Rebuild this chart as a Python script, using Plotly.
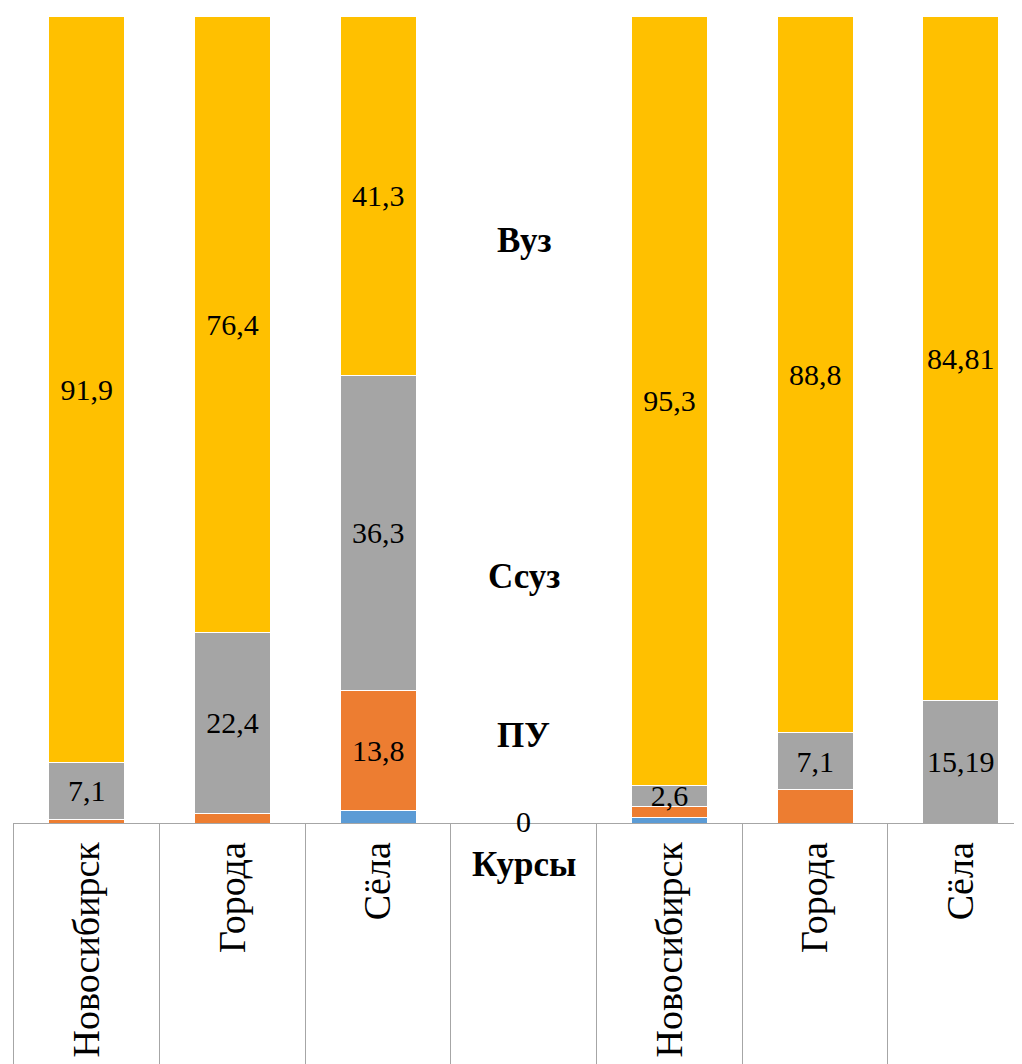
import plotly.graph_objects as go

categories = ["Новосибирск", "Города", "Сёла", "", "Новосибирск", "Города", "Сёла"]
series_names = ["Курсы", "ПУ", "Ссуз", "Вуз"]
kursy = [0, 0, 1.4, 0, 0.7, 0, 0]
pu = [0.4, 1.2, 13.8, 0, 1.4, 4.1, 0]
ssuz = [7.1, 22.4, 36.3, 0, 2.6, 7.1, 15.19]
vuz = [91.9, 76.4, 41.3, 0, 95.3, 88.8, 84.81]
# which segments carry a value label
show_pu = [False, False, True, False, False, False, False]
show_ssuz = [True, True, True, False, True, True, True]
show_vuz = [True, True, True, False, True, True, True]

colors = ["#5B9BD5", "#ED7D31", "#A5A5A5", "#FFC000"]
FONT = "Liberation Serif"

# unique keys so the repeated city names stay separate categories
keys = [f"c{i}" for i in range(len(categories))]


def fmt(v):
    return f"{v:g}".replace(".", ",")


def labels(vals, show):
    return [fmt(v) if s else "" for v, s in zip(vals, show)]


fig = go.Figure()
series = [
    (kursy, [False] * 7),
    (pu, show_pu),
    (ssuz, show_ssuz),
    (vuz, show_vuz),
]
for name, (vals, show), col in zip(series_names, series, colors):
    fig.add_trace(go.Bar(
        x=keys, y=vals, name=name,
        marker=dict(color=col, line=dict(color="white", width=1)),
        text=labels(vals, show), textposition="inside",
        insidetextanchor="middle",
        textfont=dict(family=FONT, size=30, color="black"),
        xaxis="x", yaxis="y",
    ))

# invisible helper trace so the lower strip knows the categories
fig.add_trace(go.Scatter(
    x=keys, y=[0] * len(keys), mode="markers",
    marker=dict(opacity=0), hoverinfo="skip", showlegend=False,
    xaxis="x2", yaxis="y2",
))

# series names written in the empty middle column
mid = keys[3]
for txt, yv in [("Вуз", 72.2), ("Ссуз", 30.5), ("ПУ", 10.9)]:
    fig.add_annotation(x=mid, y=yv, text=f"<b>{txt}</b>", showarrow=False,
                       font=dict(family=FONT, size=35, color="black"),
                       xref="x", yref="y")
fig.add_annotation(x=mid, y=0.2, text="0", showarrow=False,
                   font=dict(family=FONT, size=30, color="black"),
                   xref="x", yref="y", yanchor="middle")
fig.add_annotation(x=mid, y=-0.052, text="<b>Курсы</b>", showarrow=False,
                   font=dict(family=FONT, size=35, color="black"),
                   xref="x", yref="y domain", yanchor="middle")

W, H = 1014, 1056
split = (H - 815) / H
top = (H - 8) / H

fig.update_layout(
    width=W, height=H,
    barmode="stack", barnorm="percent", bargap=0.48,
    showlegend=False,
    paper_bgcolor="white", plot_bgcolor="white",
    margin=dict(l=6, r=0, t=0, b=0, autoexpand=False),
    uniformtext=dict(minsize=30, mode="show"),
    xaxis=dict(
        type="category", range=[-0.5, 6.42], anchor="y",
        tickmode="array", tickvals=keys, ticktext=categories,
        tickangle=-90, ticks="", ticklabelstandoff=3,
        tickfont=dict(family=FONT, size=38, color="black"),
        showline=True, linecolor="#A6A6A6", linewidth=1,
        showgrid=False, zeroline=False,
    ),
    yaxis=dict(
        domain=[split, top], range=[0, 100], visible=False,
    ),
    xaxis2=dict(
        type="category", matches="x", anchor="y2",
        tickson="boundaries", showgrid=True, gridcolor="#A6A6A6",
        gridwidth=1, showticklabels=False, ticks="", showline=False,
        zeroline=False,
    ),
    yaxis2=dict(
        domain=[0, split], range=[0, 1], anchor="x2",
        showline=True, linecolor="#A6A6A6", linewidth=1,
        showgrid=False, zeroline=False, showticklabels=False, ticks="",
    ),
)

fig.write_html("out.html")
